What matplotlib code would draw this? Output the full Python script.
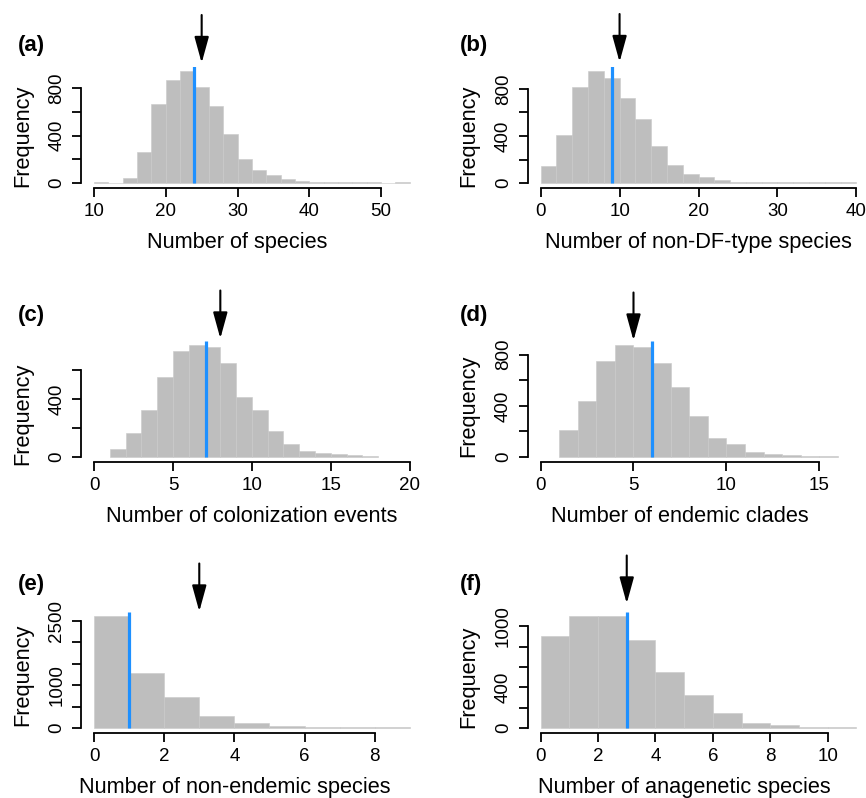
import numpy as np
import matplotlib
matplotlib.use("Agg")
import matplotlib.pyplot as plt

plt.rcParams["font.family"] = ["Liberation Sans", "DejaVu Sans"]

# histogram counts (bin width, first edge, counts)
species_start, species_width = 10, 2
species_counts = [8, 3, 45, 264, 668, 868, 944, 806, 649, 410, 205, 112, 67, 34,
                  17, 11, 8, 8, 5, 5, 3, 8]
nondf_start, nondf_width = 0, 2
nondf_counts = [142, 406, 814, 953, 891, 723, 545, 312, 150, 77, 54, 28,
                12, 10, 9, 8, 6, 5, 5, 6]
colon_start, colon_width = 1, 1
colon_counts = [53, 166, 324, 552, 731, 770, 756, 646, 414, 324, 179, 92, 41,
                25, 21, 11, 7]
clades_start, clades_width = 1, 1
clades_counts = [209, 439, 753, 876, 863, 737, 546, 324, 152, 102, 42, 24, 13, 8, 5]
nonend_start, nonend_width = 0, 1
nonend_counts = [2617, 1289, 734, 289, 109, 39, 23, 16, 23]
anagen_start, anagen_width = 0, 1
anagen_counts = [901, 1095, 1100, 862, 546, 322, 151, 53, 26, 13, 10]

# simulated mean (blue) and observed value (arrow)
sim_means = [23.9, 9.0, 7.1, 6.0, 1.0, 3.0]
observed = [25, 10, 8, 5, 3, 3]

xlabels = ["Number of species", "Number of non-DF-type species",
           "Number of colonization events", "Number of endemic clades",
           "Number of non-endemic species", "Number of anagenetic species"]
panel_tags = ["(a)", "(b)", "(c)", "(d)", "(e)", "(f)"]
xranges = [(10, 54), (0, 40), (0, 20), (0, 17), (0, 9), (0, 11)]
xticks = [np.arange(10, 51, 10), np.arange(0, 41, 10), np.arange(0, 21, 5),
          np.arange(0, 16, 5), np.arange(0, 9, 2), np.arange(0, 11, 2)]
yticks = [np.arange(0, 801, 200), np.arange(0, 801, 200), np.arange(0, 601, 200),
          np.arange(0, 801, 200), np.arange(0, 2501, 500), np.arange(0, 1001, 200)]
ylabeled = [[0, 400, 800], [0, 400, 800], [0, 400], [0, 400, 800],
            [0, 1000, 2500], [0, 400, 1000]]

hists = [(species_start, species_width, species_counts),
         (nondf_start, nondf_width, nondf_counts),
         (colon_start, colon_width, colon_counts),
         (clades_start, clades_width, clades_counts),
         (nonend_start, nonend_width, nonend_counts),
         (anagen_start, anagen_width, anagen_counts)]

W, H = 866, 798
fig = plt.figure(figsize=(W / 100, H / 100), dpi=100)

col_left = [81.4, 528.0]
col_w = 341.0
row_bottom = [187.5, 461.5, 732.5]
row_h = 121.0
tag_x = [-0.186, -0.2]
tag_dy = [20.5, 25.5, 27.0]          # px above the plot box
arrow_gap = [3.5, 4.5, 2.0, 0.0, 0.0, 8.0]  # px between arrow tip and plot box

for i in range(6):
    r, c = divmod(i, 2)
    ax = fig.add_axes([col_left[c] / W, 1 - row_bottom[r] / H, col_w / W, row_h / H])
    start, width, counts = hists[i]
    counts = np.array(counts)
    edges = start + width * np.arange(len(counts))
    ax.bar(edges, counts, width=width, align="edge", color="#bebebe",
           edgecolor="#c9c9c9", linewidth=0.4)

    x0, x1 = xranges[i]
    pad = 0.04 * (x1 - x0)
    ax.set_xlim(x0 - pad, x1 + pad)
    ytop = counts.max()
    ax.set_ylim(-0.04 * ytop, ytop * 1.04)

    ax.plot([sim_means[i]] * 2, [0, ytop * 1.04], color="#1e90ff", lw=2.3,
            solid_capstyle="butt")

    tip = 1 + arrow_gap[i] / row_h
    tail = tip + 48 / row_h
    ax.annotate("", xy=(observed[i], tip), xytext=(observed[i], tail),
                xycoords=ax.get_xaxis_transform(), annotation_clip=False,
                arrowprops=dict(arrowstyle="-|>,head_length=0.8,head_width=0.22",
                                mutation_scale=20, color="black", lw=1.5,
                                shrinkA=0, shrinkB=0))

    for s in ["top", "right"]:
        ax.spines[s].set_visible(False)
    for s in ["left", "bottom"]:
        ax.spines[s].set_linewidth(1.3)
    ax.spines["bottom"].set_bounds(xticks[i][0], xticks[i][-1])
    ax.spines["left"].set_bounds(yticks[i][0], yticks[i][-1])

    ax.set_xticks(xticks[i])
    ax.set_xticklabels([str(v) for v in xticks[i]])
    ax.set_yticks(yticks[i])
    ax.set_yticklabels([str(v) if v in ylabeled[i] else "" for v in yticks[i]],
                       rotation=90, va="center")
    ax.tick_params(direction="out", length=6.5, width=1.3, labelsize=13.5, pad=5)

    # axis titles centred on the span of the ticks, as in the original
    xmid = (xticks[i][0] + xticks[i][-1]) / 2
    ax.text(xmid, -55 / row_h, xlabels[i], transform=ax.get_xaxis_transform(),
            fontsize=15.7, ha="center", va="center")
    ymid = (yticks[i][0] + yticks[i][-1]) / 2
    ax.text(-59 / col_w, ymid, "Frequency", transform=ax.get_yaxis_transform(),
            fontsize=15.7, rotation=90, ha="center", va="center")

    ax.text(tag_x[c], 1 + tag_dy[r] / row_h, panel_tags[i], transform=ax.transAxes,
            fontsize=16, fontweight="bold", ha="left", va="center")

fig.savefig("out.png", dpi=100)
